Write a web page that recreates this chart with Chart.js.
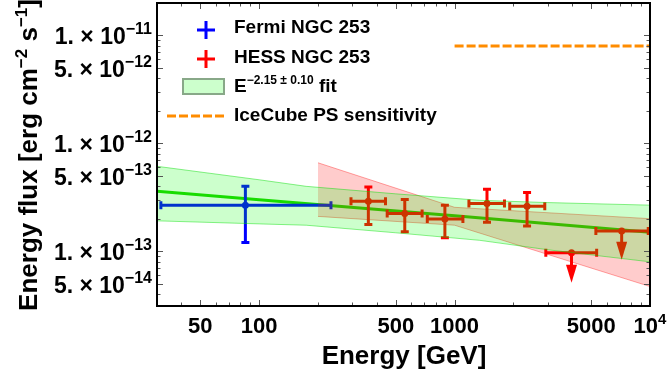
<!DOCTYPE html>
<html>
<head>
<meta charset="utf-8">
<script src="https://cdn.jsdelivr.net/npm/chart.js@4.4.0/dist/chart.umd.min.js"></script>
<style>
  html, body { margin: 0; padding: 0; background: #fff; }
  #wrap { width: 671px; height: 385px; }
</style>
</head>
<body>
<div id="wrap"><canvas id="fluxChart" width="671" height="385"></canvas></div>
<script>
// Fermi NGC 253 point (GeV, erg cm^-2 s^-1)
const fermiE = [85];
const fermiELo = [31.4];
const fermiEHi = [233];
const fermiF = [2.67e-13];
const fermiFLo = [1.2e-13];
const fermiFHi = [4.0e-13];

// HESS NGC 253 points
const hessE = [362, 556, 892, 1465, 2349];
const hessELo = [295, 452, 725, 1184, 1915];
const hessEHi = [443, 682, 1103, 1800, 2894];
const hessF = [2.9e-13, 2.23e-13, 1.99e-13, 2.77e-13, 2.61e-13];
const hessFLo = [1.77e-13, 1.51e-13, 1.33e-13, 1.85e-13, 1.71e-13];
const hessFHi = [3.94e-13, 3.01e-13, 2.67e-13, 3.75e-13, 3.5e-13];

// HESS upper limits (arrow ends at ulTip)
const ulE = [3966, 7161];
const ulELo = [2930, 5284];
const ulEHi = [5333, 9795];
const ulF = [9.65e-14, 1.54e-13];
const ulTip = [5.1e-14, 8.3e-14];

// E^-2.15 fit and its band
const fitE = [30, 100, 1000, 10000];
const fitF = [3.6e-13, 3.0e-13, 2.13e-13, 1.5e-13];
const bandE = [30, 100, 174, 500, 1344, 3000, 10000];
const bandHi = [6.12e-13, 4.59e-13, 3.99e-13, 3.4e-13, 2.96e-13, 2.82e-13, 2.67e-13];
const bandLo = [1.91e-13, 1.79e-13, 1.74e-13, 1.48e-13, 1.26e-13, 1.03e-13, 7.96e-14];

// HESS butterfly
const hessBandE = [200, 1000, 10000];
const hessBandHi = [6.6e-13, 2.55e-13, 2.0e-13];
const hessBandLo = [2.1e-13, 1.74e-13, 4.7e-14];

// IceCube point source sensitivity
const iceE = [1000, 10000];
const iceF = [8e-12, 8e-12];

// tick labels
const xTickVals = [50, 100, 500, 1000, 5000, 10000];
const xTickBase = ['50', '100', '500', '1000', '5000', '10'];
const xTickSup = ['', '', '', '', '', '4'];
const yTickVals = [1e-11, 5e-12, 1e-12, 5e-13, 1e-13, 5e-14];
const yTickMant = ['1.', '5.', '1.', '5.', '1.', '5.'];
const yTickExp = ['\u221211', '\u221212', '\u221212', '\u221213', '\u221213', '\u221214'];

const FONT = "'Liberation Sans', Arial, Helvetica, sans-serif";
const pts = (xs, ys) => xs.map((x, i) => ({ x: x, y: ys[i] }));

// draw a run of text pieces: [text, size, raise]
function rich(ctx, x, y, parts, align) {
  let w = 0;
  parts.forEach(p => { ctx.font = 'bold ' + p[1] + 'px ' + FONT; w += ctx.measureText(p[0]).width; });
  let cx = align === 'right' ? x - w : (align === 'center' ? x - w / 2 : x);
  parts.forEach(p => {
    ctx.font = 'bold ' + p[1] + 'px ' + FONT;
    ctx.fillText(p[0], cx, y - (p[2] || 0));
    cx += ctx.measureText(p[0]).width;
  });
}

function errBar(ctx, sx, sy, e, elo, ehi, f, flo, fhi, color) {
  const px = sx.getPixelForValue(e), py = sy.getPixelForValue(f);
  const x0 = sx.getPixelForValue(elo), x1 = sx.getPixelForValue(ehi);
  ctx.strokeStyle = color; ctx.fillStyle = color; ctx.lineWidth = 3;
  ctx.beginPath();
  ctx.moveTo(x0, py); ctx.lineTo(x1, py);
  ctx.moveTo(x0, py - 4); ctx.lineTo(x0, py + 4);
  ctx.moveTo(x1, py - 4); ctx.lineTo(x1, py + 4);
  if (flo != null) {
    const y0 = sy.getPixelForValue(fhi), y1 = sy.getPixelForValue(flo);
    ctx.moveTo(px, y0); ctx.lineTo(px, y1);
    ctx.moveTo(px - 4, y0); ctx.lineTo(px + 4, y0);
    ctx.moveTo(px - 4, y1); ctx.lineTo(px + 4, y1);
  }
  ctx.stroke();
  ctx.beginPath(); ctx.arc(px, py, 3.5, 0, Math.PI * 2); ctx.fill();
}

function upperLimit(ctx, sx, sy, e, elo, ehi, f, tip, color) {
  errBar(ctx, sx, sy, e, elo, ehi, f, null, null, color);
  const px = sx.getPixelForValue(e), py = sy.getPixelForValue(f), pt = sy.getPixelForValue(tip);
  ctx.beginPath(); ctx.moveTo(px, py); ctx.lineTo(px, pt - 16); ctx.stroke();
  ctx.beginPath();
  ctx.moveTo(px - 5.5, pt - 18); ctx.lineTo(px + 5.5, pt - 18); ctx.lineTo(px, pt);
  ctx.closePath(); ctx.fill();
}

const decor = {
  id: 'decor',
  // error bars go on top of the fit line but under the translucent bands
  afterDatasetDraw(chart, args) {
    if (args.index !== 0) return;
    const ctx = chart.ctx, a = chart.chartArea;
    const sx = chart.scales.x, sy = chart.scales.y;
    ctx.save();
    ctx.beginPath(); ctx.rect(a.left, a.top, a.right - a.left, a.bottom - a.top); ctx.clip();
    fermiE.forEach((e, i) => errBar(ctx, sx, sy, e, fermiELo[i], fermiEHi[i], fermiF[i], fermiFLo[i], fermiFHi[i], '#0000ff'));
    hessE.forEach((e, i) => errBar(ctx, sx, sy, e, hessELo[i], hessEHi[i], hessF[i], hessFLo[i], hessFHi[i], '#ff0000'));
    ulE.forEach((e, i) => upperLimit(ctx, sx, sy, e, ulELo[i], ulEHi[i], ulF[i], ulTip[i], '#ff0000'));
    ctx.restore();
  },
  afterDraw(chart) {
    const ctx = chart.ctx, a = chart.chartArea;
    const sx = chart.scales.x, sy = chart.scales.y;
    ctx.save();
    // inward ticks on all sides
    ctx.strokeStyle = '#555'; ctx.lineWidth = 1;
    ctx.beginPath();
    for (let n = 1; n <= 4; n++) {
      for (let k = 1; k <= 9; k++) {
        const v = k * Math.pow(10, n);
        if (v < 30 || v > 10000) continue;
        const p = Math.round(sx.getPixelForValue(v)) + 0.5;
        const len = (k === 1 || k === 5) ? 6 : 3.5;
        ctx.moveTo(p, a.bottom); ctx.lineTo(p, a.bottom - len);
        ctx.moveTo(p, a.top); ctx.lineTo(p, a.top + len);
      }
    }
    for (let n = -14; n <= -11; n++) {
      for (let k = 1; k <= 9; k++) {
        const v = k * Math.pow(10, n);
        if (v < 3.1e-14 || v > 2e-11) continue;
        const p = Math.round(sy.getPixelForValue(v)) + 0.5;
        const len = (k === 1 || k === 5) ? 6 : 3.5;
        ctx.moveTo(a.left, p); ctx.lineTo(a.left + len, p);
        ctx.moveTo(a.right, p); ctx.lineTo(a.right - len, p);
      }
    }
    ctx.stroke();
    // frame
    ctx.strokeStyle = '#000'; ctx.lineWidth = 2;
    ctx.strokeRect(a.left, a.top, a.right - a.left, a.bottom - a.top);

    ctx.fillStyle = '#000'; ctx.textAlign = 'left'; ctx.textBaseline = 'alphabetic';
    // y tick labels
    yTickVals.forEach((v, i) => {
      const p = sy.getPixelForValue(v);
      rich(ctx, 152, p + 9, [[yTickMant[i] + ' \u00d7 10', 23, 0], [yTickExp[i], 16, 10]], 'right');
    });
    // x tick labels
    xTickVals.forEach((v, i) => {
      const p = sx.getPixelForValue(v);
      const parts = [[xTickBase[i], 22, 0]];
      if (xTickSup[i]) parts.push([xTickSup[i], 15, 9]);
      rich(ctx, p, 333, parts, 'center');
    });
    // axis titles
    rich(ctx, 404, 364, [['Energy [GeV]', 26, 0]], 'center');
    ctx.save();
    ctx.translate(37, 155); ctx.rotate(-Math.PI / 2);
    rich(ctx, 0, 0, [['Energy flux [erg cm', 26, 0], ['\u22122', 17, 10], [' s', 26, 0], ['\u22121', 17, 10], [']', 26, 0]], 'center');
    ctx.restore();

    // legend
    ctx.lineWidth = 3;
    ctx.strokeStyle = '#0000ff';
    ctx.beginPath(); ctx.moveTo(197, 30); ctx.lineTo(215, 30); ctx.moveTo(206, 21); ctx.lineTo(206, 39); ctx.stroke();
    ctx.strokeStyle = '#ff0000';
    ctx.beginPath(); ctx.moveTo(197, 59); ctx.lineTo(215, 59); ctx.moveTo(206, 50); ctx.lineTo(206, 68); ctx.stroke();
    ctx.fillStyle = '#ccffcc'; ctx.fillRect(183, 79, 41, 15);
    ctx.strokeStyle = '#88a888'; ctx.lineWidth = 2; ctx.strokeRect(183, 79, 41, 15);
    ctx.strokeStyle = '#ff8c00'; ctx.lineWidth = 3; ctx.setLineDash([9, 3]);
    ctx.beginPath(); ctx.moveTo(167, 116); ctx.lineTo(224, 116); ctx.stroke();
    ctx.setLineDash([]);
    ctx.fillStyle = '#000';
    rich(ctx, 234, 33, [['Fermi NGC 253', 19, 0]], 'left');
    rich(ctx, 234, 63, [['HESS NGC 253', 19, 0]], 'left');
    rich(ctx, 234, 92, [['E', 19, 0], ['\u22122.15 \u00b1 0.10', 12, 8], [' fit', 19, 0]], 'left');
    rich(ctx, 234, 121, [['IceCube PS sensitivity', 19, 0]], 'left');
    ctx.restore();
  }
};

new Chart(document.getElementById('fluxChart'), {
  type: 'line',
  data: {
    datasets: [
      { data: pts(fitE, fitF), borderColor: '#1ed400', borderWidth: 3, pointRadius: 0, fill: false, order: 10 },
      { data: pts(hessBandE, hessBandHi), borderColor: 'rgba(255,0,0,0.35)', borderWidth: 1, pointRadius: 0,
        fill: 2, backgroundColor: 'rgba(255,0,0,0.2)', order: 8 },
      { data: pts(hessBandE, hessBandLo), borderColor: 'rgba(255,0,0,0.35)', borderWidth: 1, pointRadius: 0, fill: false, order: 8 },
      { data: pts(bandE, bandHi), borderColor: 'rgba(0,220,0,0.45)', borderWidth: 1, pointRadius: 0,
        fill: 4, backgroundColor: 'rgba(0,255,0,0.2)', order: 6 },
      { data: pts(bandE, bandLo), borderColor: 'rgba(0,220,0,0.45)', borderWidth: 1, pointRadius: 0, fill: false, order: 6 },
      { data: pts(iceE, iceF), borderColor: '#ff8c00', borderWidth: 3, borderDash: [9, 3], pointRadius: 0, fill: false, order: 1 }
    ]
  },
  options: {
    responsive: false,
    animation: false,
    layout: { padding: { top: 3, right: 21, left: 0, bottom: 0 } },
    plugins: { legend: { display: false }, tooltip: { enabled: false } },
    scales: {
      x: {
        type: 'logarithmic', min: 30, max: 10000,
        ticks: { display: false }, grid: { display: false }, border: { display: false },
        afterFit: s => { s.height = 79; }
      },
      y: {
        type: 'logarithmic', min: 3.1e-14, max: 2e-11,
        ticks: { display: false }, grid: { display: false }, border: { display: false },
        afterFit: s => { s.width = 157; }
      }
    }
  },
  plugins: [decor]
});
</script>
</body>
</html>
